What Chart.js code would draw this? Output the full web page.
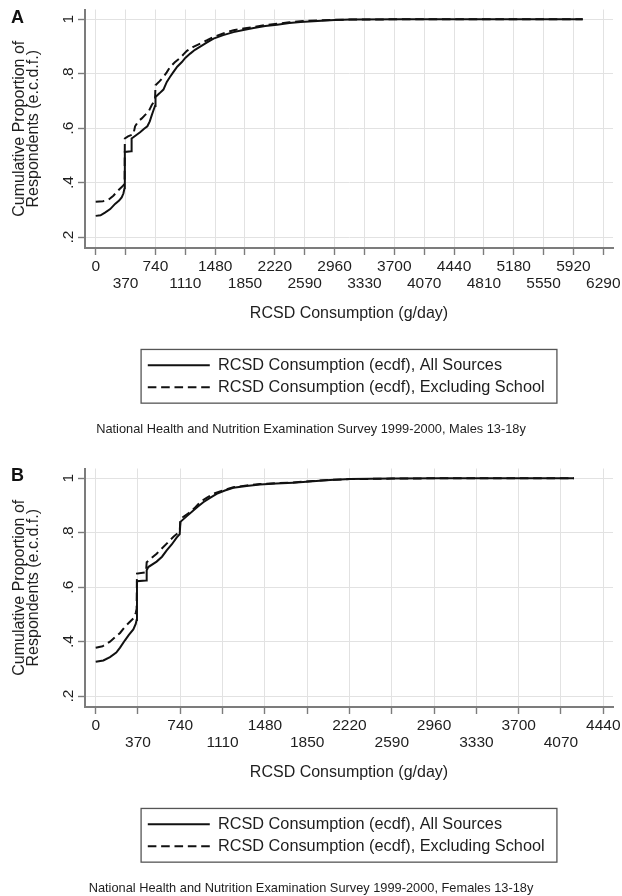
<!DOCTYPE html>
<html>
<head>
<meta charset="utf-8">
<script src="https://cdn.jsdelivr.net/npm/chart.js@4/dist/chart.umd.min.js"></script>
<style>
  html, body { margin: 0; padding: 0; background: #fff; width: 622px; height: 896px; overflow: hidden; }
  .panel { position: absolute; left: 0; width: 622px; height: 438px; }
  .tag { position: absolute; left: 11px; font: bold 18px "Liberation Sans", Arial, Helvetica, sans-serif; line-height: 18px; color: #111; }
</style>
</head>
<body>
<div class="panel" style="top:0"><canvas id="chartA" width="622" height="438"></canvas></div>
<div class="panel" style="top:459px"><canvas id="chartB" width="622" height="438"></canvas></div>
<div class="tag" style="top:7.6px">A</div>
<div class="tag" style="top:466px">B</div>
<script>
// ---------- data ----------
const panelTags = ['A', 'B'];
const xTicksMales = [0, 370, 740, 1110, 1480, 1850, 2220, 2590, 2960, 3330, 3700, 4070, 4440, 4810, 5180, 5550, 5920, 6290];
const xTicksFemales = [0, 370, 740, 1110, 1480, 1850, 2220, 2590, 2960, 3330, 3700, 4070, 4440];
const yTickValues = [0.2, 0.4, 0.6, 0.8, 1];
const xAxisTitle = 'RCSD Consumption (g/day)';
const yAxisTitle = ['Cumulative Proportion of', 'Respondents (e.c.d.f.)'];
const seriesNames = ['RCSD Consumption (ecdf), All Sources', 'RCSD Consumption (ecdf), Excluding School'];
const notes = [
  'National Health and Nutrition Examination Survey 1999-2000, Males 13-18y',
  'National Health and Nutrition Examination Survey 1999-2000, Females 13-18y'
];

// [g/day, cumulative proportion]
const malesAllSources = [[0,0.278],[60,0.28],[115,0.29],[180,0.303],[240,0.322],[290,0.334],[322,0.346],[343,0.36],[358,0.38],[361,0.513],[440,0.515],[445,0.562],[500,0.574],[550,0.585],[600,0.598],[640,0.607],[670,0.625],[695,0.648],[715,0.665],[735,0.682],[741,0.715],[790,0.728],[839,0.742],[881,0.77],[920,0.788],[964,0.807],[1010,0.826],[1068,0.843],[1110,0.858],[1171,0.874],[1230,0.888],[1295,0.9],[1380,0.915],[1460,0.929],[1580,0.942],[1708,0.953],[1830,0.961],[1957,0.968],[2100,0.975],[2247,0.98],[2400,0.986],[2537,0.99],[2750,0.994],[2960,0.997],[3160,0.999],[3800,1],[6035,1]];
const malesExclSchool = [[0,0.33],[90,0.332],[157,0.337],[219,0.352],[281,0.372],[343,0.39],[358,0.397],[361,0.562],[400,0.57],[467,0.578],[488,0.607],[529,0.626],[571,0.636],[610,0.648],[653,0.66],[695,0.685],[735,0.703],[741,0.758],[790,0.772],[839,0.788],[880,0.805],[922,0.825],[980,0.842],[1047,0.858],[1090,0.872],[1130,0.884],[1210,0.899],[1295,0.911],[1380,0.923],[1460,0.935],[1580,0.948],[1708,0.96],[1830,0.966],[1957,0.972],[2100,0.979],[2247,0.984],[2400,0.989],[2537,0.993],[2750,0.996],[2960,0.998],[3160,0.999],[3800,1],[6035,1]];
const femalesAllSources = [[0,0.326],[67,0.331],[125,0.343],[180,0.36],[213,0.378],[256,0.405],[290,0.425],[329,0.445],[350,0.465],[358,0.48],[361,0.622],[440,0.625],[446,0.662],[460,0.674],[533,0.694],[580,0.712],[621,0.735],[665,0.757],[708,0.782],[735,0.795],[741,0.84],[800,0.862],[854,0.882],[900,0.898],[941,0.912],[1000,0.928],[1058,0.943],[1130,0.955],[1204,0.965],[1320,0.972],[1437,0.977],[1580,0.981],[1728,0.984],[1900,0.989],[2050,0.994],[2224,0.997],[2590,0.999],[3000,1],[4184,1]];
const femalesExclSchool = [[0,0.378],[60,0.383],[125,0.4],[213,0.432],[256,0.455],[329,0.485],[350,0.505],[358,0.52],[361,0.65],[440,0.655],[446,0.692],[533,0.723],[621,0.76],[680,0.785],[723,0.8],[735,0.805],[741,0.851],[825,0.875],[870,0.893],[912,0.912],[970,0.928],[1029,0.943],[1110,0.955],[1204,0.967],[1320,0.974],[1437,0.979],[1580,0.982],[1728,0.985],[1900,0.99],[2050,0.994],[2224,0.997],[2590,0.999],[3000,1],[4184,1]];

// ---------- styling ----------
const FONT = '"Liberation Sans", Arial, Helvetica, sans-serif';
const TEXT = '#1e1e1e';
const GRID = '#e2e2e2';
const AXIS = '#7c7c7c';
const DASH = [8.6, 4.75];
Chart.defaults.font.family = FONT;

// Keeps both legend rows left-aligned together, and draws the frame around them
const legendFrame = {
  id: 'legendFrame',
  beforeDraw(chart) {
    const lg = chart.legend;
    if (!lg || !lg.legendHitBoxes || !lg.legendHitBoxes.length) return;
    const pad = lg.options.labels.padding;
    const maxW = Math.max(...lg.legendHitBoxes.map(h => h.width));
    const cx = (chart.chartArea.left + chart.chartArea.right) / 2;
    const start = cx - (maxW + 5.6) / 2;
    const L = lg.left + pad + lg.right - 2 * start;
    lg.lineWidths = lg.lineWidths.map(() => L);
    lg._frame = { start, maxW };
  },
  afterDraw(chart) {
    const lg = chart.legend;
    if (!lg || !lg._frame) return;
    const { start, maxW } = lg._frame;
    const pad = lg.options.labels.padding;
    const fs = lg.options.labels.font.size;
    const row1 = lg.top + pad + fs / 2;
    const row2 = row1 + fs + pad;
    const ctx = chart.ctx;
    ctx.save();
    ctx.strokeStyle = '#555';
    ctx.lineWidth = 1.3;
    ctx.setLineDash([]);
    const l = start - 6.7, r = start + maxW + 12.3, t = row1 - 15.7, b = row2 + 16;
    ctx.strokeRect(l, t, r - l, b - t);
    ctx.restore();
  }
};

function makeChart(canvasId, xTicks, xMin, xMax, solid, dashed, note) {
  const toPts = arr => arr.map(([x, y]) => ({ x, y }));
  const gridOpts = { color: GRID, lineWidth: 1, tickColor: AXIS, tickLength: 7, tickWidth: 1.4 };
  return new Chart(document.getElementById(canvasId), {
    type: 'line',
    data: {
      datasets: [
        { label: seriesNames[0], data: toPts(solid), borderColor: '#111', backgroundColor: 'rgba(0,0,0,0)', borderWidth: 2, pointRadius: 0, tension: 0, fill: false },
        { label: seriesNames[1], data: toPts(dashed), borderColor: '#111', backgroundColor: 'rgba(0,0,0,0)', borderWidth: 2, borderDash: DASH, pointRadius: 0, tension: 0, fill: false }
      ]
    },
    options: {
      responsive: false,
      animation: false,
      devicePixelRatio: 1,
      events: [],
      layout: { padding: { top: 9.5, left: 0, right: 0, bottom: 1.34 } },
      scales: {
        x: {
          type: 'linear', min: xMin, max: xMax, bounds: 'data',
          afterBuildTicks: s => { s.ticks = xTicks.map(v => ({ value: v })); },
          afterFit: s => { s.height = 103.3; s.paddingLeft = 0; s.paddingRight = 0; },
          grid: gridOpts,
          border: { color: AXIS, width: 2 },
          ticks: {
            autoSkip: false, maxRotation: 0, minRotation: 0, padding: 3.4, color: TEXT,
            font: { family: FONT, size: 15.5, lineHeight: 16.6 / 15.5 },
            callback: (v, i) => (i % 2 === 0 ? [String(v), ''] : ['', String(v)])
          },
          title: { display: true, text: xAxisTitle, color: TEXT, font: { family: FONT, size: 16, lineHeight: 1.2 }, padding: { top: 0, bottom: 27.7 } }
        },
        y: {
          type: 'linear', min: 0.16, max: 1.036, bounds: 'data',
          afterBuildTicks: s => { s.ticks = yTickValues.map(v => ({ value: v })); },
          afterFit: s => { s.width = 85; s.paddingTop = 0; s.paddingBottom = 0; },
          grid: gridOpts,
          border: { color: AXIS, width: 2 },
          ticks: {
            autoSkip: false, minRotation: 90, maxRotation: 90, crossAlign: 'center', padding: 3.2, color: TEXT,
            font: { family: FONT, size: 15.5 },
            callback: v => (v === 1 ? '1' : '.' + Math.round(v * 10))
          },
          title: { display: true, text: yAxisTitle, color: TEXT, font: { family: FONT, size: 16, lineHeight: 0.875 }, padding: { top: 13, bottom: 0 } }
        },
        yR: {
          type: 'linear', position: 'right', display: true,
          afterFit: s => { s.width = 9; s.paddingTop = 0; s.paddingBottom = 0; },
          grid: { display: false, drawOnChartArea: false, drawTicks: false },
          border: { display: false },
          ticks: { display: false }
        }
      },
      plugins: {
        legend: {
          display: true, position: 'bottom', fullSize: false, align: 'center',
          labels: {
            usePointStyle: true, pointStyle: 'line', pointStyleWidth: 62, boxHeight: 16.3,
            padding: 5.7, color: TEXT, font: { family: FONT, size: 16.3 },
            generateLabels: chart => {
              const items = Chart.defaults.plugins.legend.labels.generateLabels(chart);
              items.forEach(it => {
                const ds = chart.data.datasets[it.datasetIndex];
                it.lineDash = ds.borderDash || [];
                it.lineWidth = ds.borderWidth;
                it.strokeStyle = ds.borderColor;
                it.pointStyle = 'line';
              });
              return items;
            }
          }
        },
        subtitle: {
          display: true, position: 'bottom', text: note, color: TEXT,
          font: { family: FONT, size: 12.8, lineHeight: 1.2, weight: 'normal' },
          padding: { top: 16, bottom: 0 }
        },
        title: { display: false },
        tooltip: { enabled: false }
      }
    },
    plugins: [legendFrame]
  });
}

makeChart('chartA', xTicksMales, -132.6, 6410, malesAllSources, malesExclSchool, notes[0]);
makeChart('chartB', xTicksFemales, -93.6, 4525, femalesAllSources, femalesExclSchool, notes[1]);
</script>
</body>
</html>
